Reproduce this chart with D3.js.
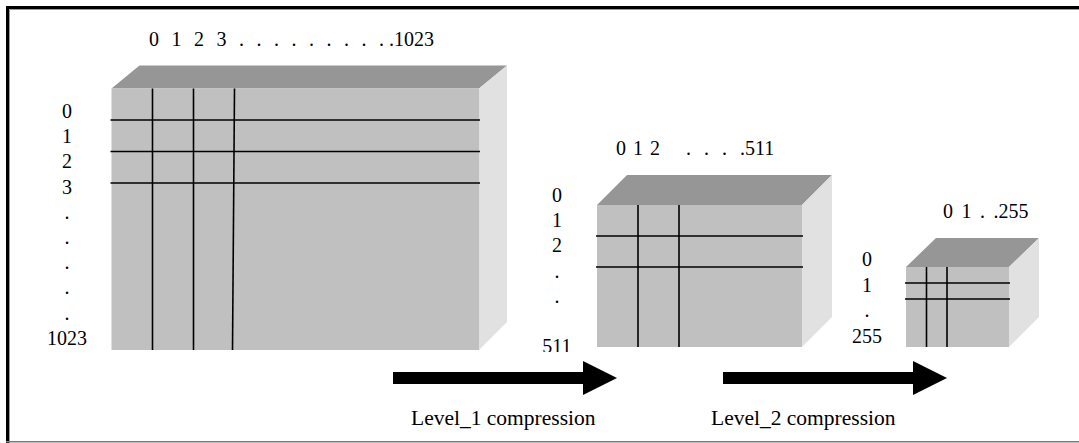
<!DOCTYPE html>
<html>
<head>
<meta charset="utf-8">
<script src="https://cdn.jsdelivr.net/npm/d3@7/dist/d3.min.js"></script>
<style>
  body { margin: 0; background: #fff; }
  svg { display: block; }
  svg text { font-family: "Liberation Serif", "DejaVu Serif", serif; }
</style>
</head>
<body>
<div id="chart"></div>
<script>
// matrix sizes at each level
const levels = ["1024", "512", "256"];
// grid lines drawn inside each face (cols, rows)
const gridCols = [3, 2, 2];
const gridRows = [3, 2, 2];
// row labels on the left of each block
const rowLabels = [
  ["0", "1", "2", "3", ".", ".", ".", ".", ".", "1023"],
  ["0", "1", "2", ".", ".", "", "511"],
  ["0", "1", ".", "255"]
];
// column labels above each block (pieces with their own word spacing)
const colLabels = [
  [["0 1 2 3 . . . . . . . . .", 7.5], [" .1023", 0]],
  [["0 1 2", 2], ["  . . . .", 8], ["511", 0]],
  [["0 1 . .255", 3.5]]
];
const captions = ["Level_1 compression", "Level_2 compression"];

// layout
const W = 1079, H = 443;
const blocks = [
  { x0: 111.5, y0: 88.5, x1: 479, y1: 350, dx: 28, dy: 23, cw: 41, ch: 31.5,
    rowX: 67, rowY0: 118, rowStep: 25.2, colX: 149, colY: 46 },
  { x0: 597, y0: 205, x1: 802, y1: 347, dx: 30, dy: 30, cw: 41, ch: 31,
    rowX: 557, rowY0: 202, rowStep: 25.2, colX: 616, colY: 155 },
  { x0: 906, y0: 267, x1: 1009, y1: 347, dx: 30, dy: 29, cw: 20.5, ch: 16,
    rowX: 867, rowY0: 266, rowStep: 25.6, colX: 943, colY: 218 }
];
const arrows = [
  { x0: 393, x1: 583, tip: 617, y: 378, shaft: 12, head: 34, capX: 411 },
  { x0: 723, x1: 913, tip: 947, y: 378, shaft: 12, head: 34, capX: 711 }
];

const svg = d3.select("#chart").append("svg")
  .attr("width", W).attr("height", H);

svg.append("defs").append("clipPath").attr("id", "clip511")
  .append("rect").attr("x", 0).attr("y", 0).attr("width", W).attr("height", 352);

// frame
svg.append("line").attr("x1", 7.5).attr("y1", 6).attr("x2", 7.5).attr("y2", H)
  .attr("stroke", "#000").attr("stroke-width", 3);
svg.append("line").attr("x1", 6).attr("y1", 7.5).attr("x2", W).attr("y2", 7.5)
  .attr("stroke", "#000").attr("stroke-width", 3);
svg.append("line").attr("x1", 9.5).attr("y1", 9.5).attr("x2", W).attr("y2", 9.5)
  .attr("stroke", "#999").attr("stroke-width", 1);
svg.append("line").attr("x1", 9.5).attr("y1", 9.5).attr("x2", 9.5).attr("y2", H)
  .attr("stroke", "#999").attr("stroke-width", 1);
svg.append("line").attr("x1", 6).attr("y1", 441.8).attr("x2", W).attr("y2", 441.8)
  .attr("stroke", "#7a7a7a").attr("stroke-width", 1.6);

const line = d3.line();

levels.forEach((lv, i) => {
  const b = blocks[i];
  const g = svg.append("g").attr("class", "block");

  // top face
  g.append("path")
    .attr("d", line([[b.x0, b.y0], [b.x0 + b.dx, b.y0 - b.dy], [b.x1 + b.dx, b.y0 - b.dy], [b.x1, b.y0]]) + "Z")
    .attr("fill", "#969696");
  // side face
  g.append("path")
    .attr("d", line([[b.x1, b.y0], [b.x1 + b.dx, b.y0 - b.dy], [b.x1 + b.dx, b.y1 - b.dx], [b.x1, b.y1]]) + "Z")
    .attr("fill", "#e1e1e1");
  // front face
  g.append("rect")
    .attr("x", b.x0).attr("y", b.y0)
    .attr("width", b.x1 - b.x0).attr("height", b.y1 - b.y0)
    .attr("fill", "#c0c0c0");

  // grid lines
  const xs = d3.scaleLinear().domain([0, 1]).range([b.x0, b.x0 + b.cw]);
  const ys = d3.scaleLinear().domain([0, 1]).range([b.y0, b.y0 + b.ch]);
  g.selectAll(".vl").data(d3.range(1, gridCols[i] + 1)).enter()
    .append("line").attr("class", "vl")
    .attr("x1", d => xs(d)).attr("x2", (d, k) => xs(d) - (i === 0 && k === 2 ? 2 : 0))
    .attr("y1", b.y0).attr("y2", b.y1)
    .attr("stroke", "#000").attr("stroke-width", 1.6);
  g.selectAll(".hl").data(d3.range(1, gridRows[i] + 1)).enter()
    .append("line").attr("class", "hl")
    .attr("x1", b.x0 - 1).attr("x2", b.x1 + 1)
    .attr("y1", d => ys(d)).attr("y2", d => ys(d))
    .attr("stroke", "#000").attr("stroke-width", 1.6);

  // row labels
  const ry = d3.scaleLinear().domain([0, 1]).range([b.rowY0, b.rowY0 + b.rowStep]);
  g.selectAll(".rl").data(rowLabels[i]).enter()
    .append("text").attr("class", "rl")
    .attr("x", b.rowX).attr("y", (d, k) => ry(k))
    .attr("text-anchor", "middle")
    .attr("font-size", 20)
    .attr("clip-path", i === 1 ? "url(#clip511)" : null)
    .text(d => d);

  // column labels
  const ct = g.append("text")
    .attr("x", b.colX).attr("y", b.colY)
    .attr("font-size", 20)
    .attr("xml:space", "preserve")
    .style("white-space", "pre");
  ct.selectAll("tspan").data(colLabels[i]).enter()
    .append("tspan")
    .attr("word-spacing", d => d[1])
    .text(d => d[0]);
});

// arrows and captions
arrows.forEach((a, i) => {
  const h = a.shaft / 2, hh = a.head / 2;
  svg.append("path")
    .attr("d", line([[a.x0, a.y - h], [a.x1, a.y - h], [a.x1, a.y - hh], [a.tip, a.y],
                     [a.x1, a.y + hh], [a.x1, a.y + h], [a.x0, a.y + h]]) + "Z")
    .attr("fill", "#000");
  svg.append("text")
    .attr("x", a.capX).attr("y", 424.5)
    .attr("font-size", 21.5)
    .text(captions[i]);
});
</script>
</body>
</html>
